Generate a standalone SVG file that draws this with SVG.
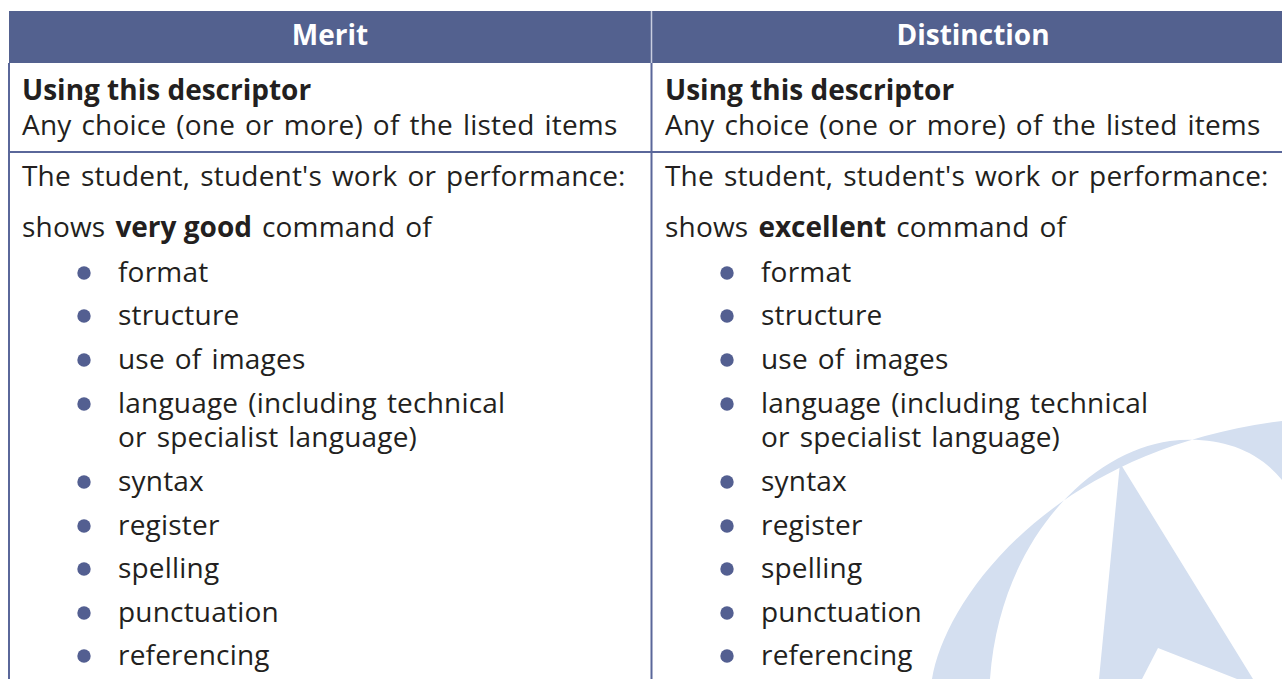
<svg xmlns="http://www.w3.org/2000/svg" width="1282" height="679" viewBox="0 0 1282 679">
<style>
.t{font-family:"Open Sans","Noto Sans","Liberation Sans",sans-serif;font-size:28px;fill:#231f20;letter-spacing:0.2px;word-spacing:2.5px}
.b{font-weight:bold;letter-spacing:0;word-spacing:0}
.h{font-family:"Open Sans","Noto Sans","Liberation Sans",sans-serif;font-size:28px;font-weight:bold;fill:#ffffff}
.bul{fill:#535f91}
.ln{stroke:#5a679a;stroke-width:2;fill:none}
.wm{fill:#d4dff0}
</style>
<defs>
<circle id="dot" r="6.7" class="bul"/>
</defs>
<rect width="1282" height="679" fill="#ffffff"/>
<g id="watermark">
<path class="wm" d="M932,679 C945,600 1050,450 1282,421 L1282,480 C1255,447 1215,436 1170,441 C1090,452 1000,540 990,679 Z"/>
<path class="wm" d="M1120,463 L1099,679 L1142,679 L1158,648 L1237,679 L1253,679 Z"/>
</g>
<g id="header">
<rect x="9" y="11" width="1273" height="52" fill="#53618f"/>
<line x1="651.5" y1="11" x2="651.5" y2="63" stroke="#c9cee0" stroke-width="1.5"/>
<text class="h" x="330" y="45" text-anchor="middle">Merit</text>
<text class="h" x="973" y="45" text-anchor="middle">Distinction</text>
</g>
<g id="grid">
<line class="ln" x1="9" y1="63" x2="9" y2="679"/>
<line class="ln" x1="651.5" y1="63" x2="651.5" y2="679"/>
<line class="ln" x1="9" y1="152" x2="1282" y2="152"/>
</g>
<g id="merit">
<text class="t b" x="22" y="100">Using this descriptor</text>
<text class="t" x="22" y="135">Any choice (one or more) of the listed items</text>
<text class="t" x="22" y="186">The student, student's work or performance:</text>
<text class="t" x="22" y="237">shows <tspan class="b">very good</tspan> command of</text>
<use href="#dot" x="84" y="273"/><text class="t" x="118" y="282">format</text>
<use href="#dot" x="84" y="316"/><text class="t" x="118" y="325">structure</text>
<use href="#dot" x="84" y="360"/><text class="t" x="118" y="369">use of images</text>
<use href="#dot" x="84" y="404"/><text class="t" x="118" y="413">language (including technical</text>
<text class="t" x="118" y="447">or specialist language)</text>
<use href="#dot" x="84" y="482"/><text class="t" x="118" y="491">syntax</text>
<use href="#dot" x="84" y="526"/><text class="t" x="118" y="535">register</text>
<use href="#dot" x="84" y="569"/><text class="t" x="118" y="578">spelling</text>
<use href="#dot" x="84" y="613"/><text class="t" x="118" y="622">punctuation</text>
<use href="#dot" x="84" y="656"/><text class="t" x="118" y="665">referencing</text>
</g>
<g id="distinction">
<text class="t b" x="665" y="100">Using this descriptor</text>
<text class="t" x="665" y="135">Any choice (one or more) of the listed items</text>
<text class="t" x="665" y="186">The student, student's work or performance:</text>
<text class="t" x="665" y="237">shows <tspan class="b">excellent</tspan> command of</text>
<use href="#dot" x="727" y="273"/><text class="t" x="761" y="282">format</text>
<use href="#dot" x="727" y="316"/><text class="t" x="761" y="325">structure</text>
<use href="#dot" x="727" y="360"/><text class="t" x="761" y="369">use of images</text>
<use href="#dot" x="727" y="404"/><text class="t" x="761" y="413">language (including technical</text>
<text class="t" x="761" y="447">or specialist language)</text>
<use href="#dot" x="727" y="482"/><text class="t" x="761" y="491">syntax</text>
<use href="#dot" x="727" y="526"/><text class="t" x="761" y="535">register</text>
<use href="#dot" x="727" y="569"/><text class="t" x="761" y="578">spelling</text>
<use href="#dot" x="727" y="613"/><text class="t" x="761" y="622">punctuation</text>
<use href="#dot" x="727" y="656"/><text class="t" x="761" y="665">referencing</text>
</g>
</svg>
